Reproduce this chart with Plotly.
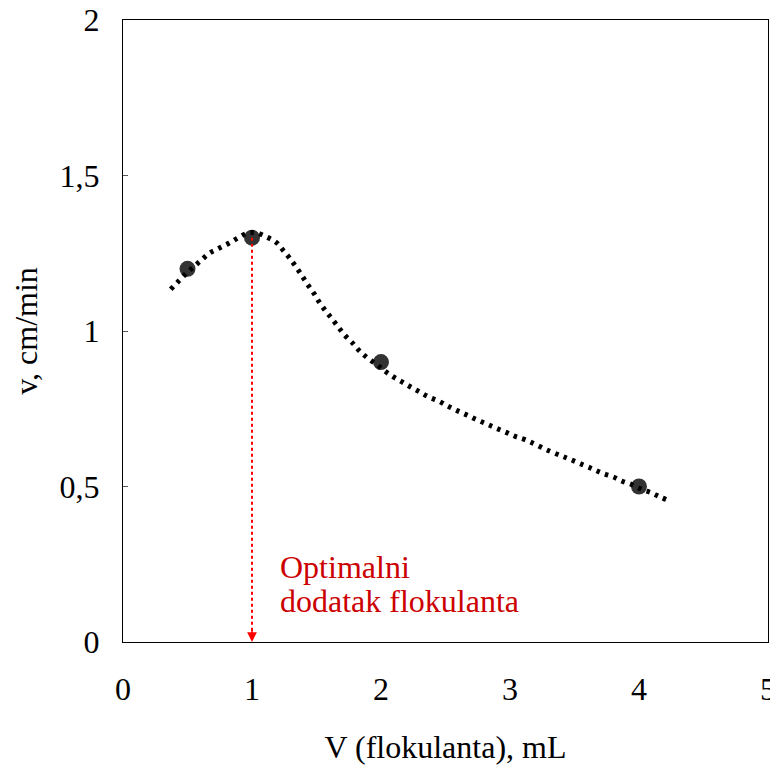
import plotly.graph_objects as go

# measured points
x_pts = [0.5, 1, 2, 4]
y_pts = [1.2, 1.3, 0.9, 0.5]

# dotted trend curve
x_fit = [0.37, 0.43, 0.49, 0.55, 0.61, 0.67, 0.74, 0.82, 0.89, 0.96, 1.03, 1.11,
         1.19, 1.24, 1.29, 1.34, 1.385, 1.43, 1.48, 1.52, 1.57, 1.62, 1.67, 1.72,
         1.78, 1.83, 1.89, 1.96, 2.02, 2.09, 2.16, 2.23, 2.30, 2.37, 2.45, 2.52,
         2.59, 2.67, 2.74, 2.82, 2.89, 2.97, 3.04, 3.12, 3.3, 3.45, 3.57, 3.65,
         3.72, 3.80, 3.87, 3.95, 4.02, 4.10, 4.17, 4.25]
y_fit = [1.134, 1.160, 1.185, 1.207, 1.229, 1.250, 1.265, 1.282, 1.299, 1.314, 1.316, 1.303,
         1.284, 1.260, 1.235, 1.207, 1.179, 1.150, 1.121, 1.094, 1.065, 1.039, 1.012, 0.986,
         0.961, 0.937, 0.915, 0.894, 0.874, 0.854, 0.837, 0.820, 0.804, 0.788, 0.774, 0.758,
         0.744, 0.729, 0.715, 0.701, 0.688, 0.674, 0.661, 0.650, 0.615, 0.590, 0.569, 0.555,
         0.542, 0.531, 0.517, 0.505, 0.491, 0.479, 0.465, 0.452]

opt_x = 1
opt_y = 1.3
opt_lines = ["Optimalni", "dodatak flokulanta"]

x_ticks = [0, 1, 2, 3, 4, 5]
y_ticks = [0, 0.5, 1, 1.5, 2]

font = "Liberation Serif, Times New Roman, serif"
FS = 32

fig = go.Figure()
fig.add_trace(go.Scatter(x=x_pts, y=y_pts, mode="markers",
                         marker=dict(size=16, color="#333333"), showlegend=False))
fig.add_trace(go.Scatter(x=x_fit, y=y_fit, mode="lines", line_shape="spline",
                         line=dict(color="black", width=5, dash="3.5px,5.5px"),
                         showlegend=False))
fig.add_trace(go.Scatter(x=[opt_x, opt_x], y=[opt_y, 0.03], mode="lines",
                         line=dict(color="red", width=2, dash="dot"), showlegend=False))
fig.add_annotation(x=opt_x, y=0, ax=0, ay=-14, showarrow=True, arrowhead=2,
                   arrowsize=1.3, arrowwidth=1.5, arrowcolor="red", text="",
                   xref="x", yref="y")
for i, line in enumerate(opt_lines):
    fig.add_annotation(x=1.20, y=0.24 - 0.107 * i, text=line, showarrow=False,
                       xanchor="left", yanchor="middle", align="left",
                       font=dict(family=font, size=FS, color="#cc0000"))

axis_common = dict(showgrid=False, zeroline=False, showline=True, linecolor="black",
                   linewidth=1, mirror=True, ticklabeloverflow="allow", automargin=False,
                   tickfont=dict(family=font, size=FS, color="black"),
                   title_font=dict(family=font, size=FS, color="black"))
fig.update_xaxes(range=[0, 5], tickvals=x_ticks, ticks="", ticklabelstandoff=19,
                 title_text="V (flokulanta), mL", title_standoff=33, **axis_common)
fig.update_yaxes(range=[0, 2], tickvals=y_ticks, ticks="inside", ticklen=5,
                 tickcolor="#555555", ticklabelstandoff=16,
                 title_text="v, cm/min", title_standoff=23, **axis_common)

# page body adds an 8px offset; figure size/margins compensate for it
fig.update_layout(width=770, height=757, plot_bgcolor="white", paper_bgcolor="white",
                  margin=dict(l=115, r=10, t=12, b=123), separators=", ",
                  font=dict(family=font))
fig.write_html("out.html")
